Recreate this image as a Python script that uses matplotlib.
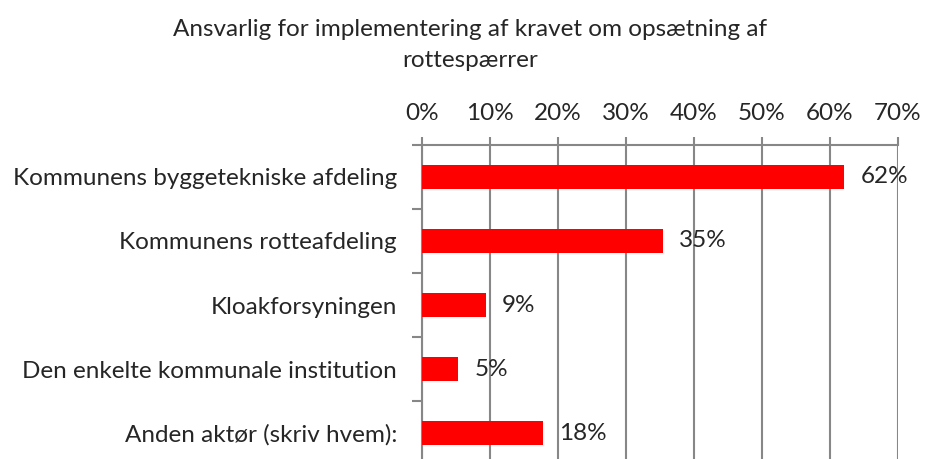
import matplotlib.pyplot as plt
from matplotlib.ticker import FixedLocator, PercentFormatter

# data (percent)
categories = [
    "Kommunens byggetekniske afdeling",
    "Kommunens rotteafdeling",
    "Kloakforsyningen",
    "Den enkelte kommunale institution",
    "Anden aktør (skriv hvem):",
]
values = [62.1, 35.4, 9.4, 5.3, 17.8]
labels = ["62%", "35%", "9%", "5%", "18%"]
title = "Ansvarlig for implementering af kravet om opsætning af\nrottespærrer"

plt.rcParams['font.family'] = ['Lato', 'DejaVu Sans']
txt = '#262626'
grid = '#878787'
fs = 17.5

fig = plt.figure(figsize=(9.3, 4.59), dpi=100)
ax = fig.add_axes([422 / 930, -6 / 459, 476 / 930, 320 / 459])

pos = list(range(len(categories)))
ax.barh(pos, values, height=0.39, color='#ff0000', zorder=3)
for y, v, lab in zip(pos, values, labels):
    ax.text(v + 2.4, y, lab, va='center', ha='left', fontsize=fs, color=txt, zorder=4)

ax.set_xlim(0, 70)
ax.set_ylim(4.5, -0.5)
ax.xaxis.set_ticks_position('top')
ax.set_xticks(range(0, 71, 10))
ax.xaxis.set_major_formatter(PercentFormatter(decimals=0))
ax.tick_params(axis='x', length=5.8, width=1.5, color=grid, labelsize=fs,
               labelcolor=txt, pad=9.5)
ax.grid(axis='x', color=grid, linewidth=1.5, zorder=1)

ax.set_yticks(pos)
ax.set_yticklabels(categories)
ax.tick_params(axis='y', length=0, labelsize=fs, labelcolor=txt, pad=18)
ax.yaxis.set_minor_locator(FixedLocator([p - 0.5 for p in pos] + [4.5]))
ax.tick_params(axis='y', which='minor', length=7, width=1.5, color=grid)

for s in ['right', 'bottom']:
    ax.spines[s].set_visible(False)
for s in ['top', 'left']:
    ax.spines[s].set_color(grid)
    ax.spines[s].set_linewidth(1.5)

fig.text(470 / 930, 1 - 45 / 459, title, ha='center', va='center',
         fontsize=fs, color=txt, linespacing=1.55)

fig.savefig('out.png', dpi=100)
